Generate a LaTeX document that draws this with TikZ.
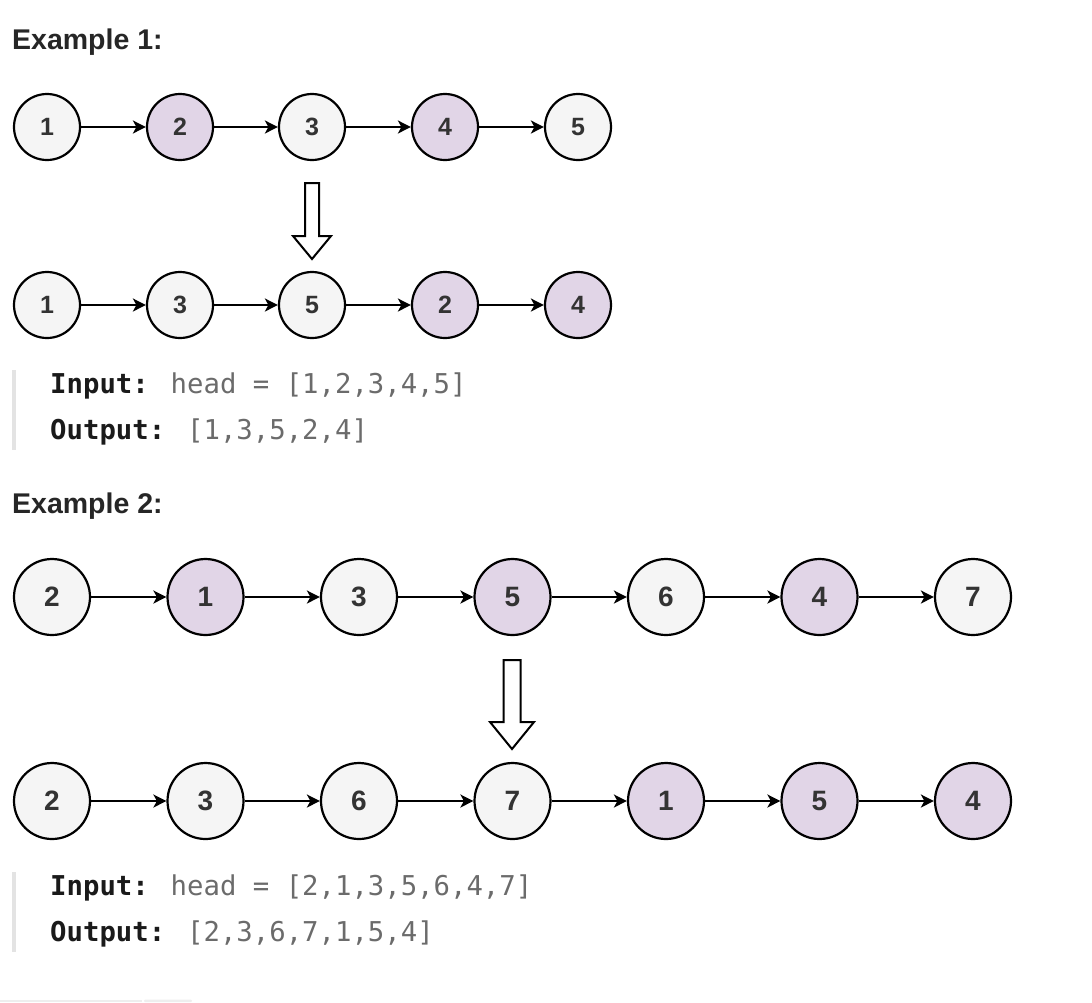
\documentclass[tikz,border=0pt]{standalone}
\usepackage{fontspec}
\setmainfont{Liberation Sans}
\newfontfamily\codefont{DejaVu Sans Mono}
\usetikzlibrary{arrows.meta}
\definecolor{nodelight}{HTML}{F5F5F5}
\definecolor{nodepurple}{HTML}{E1D5E7}
\definecolor{titlecol}{HTML}{262626}
\definecolor{digitcol}{HTML}{333333}
\definecolor{codegray}{HTML}{6B6B6B}
\definecolor{codeblack}{HTML}{1A1A1A}
\definecolor{barcol}{HTML}{E3E3E3}
\definecolor{linecol}{HTML}{EEEEEE}
\tikzset{
  lnode/.style={circle, draw=black, line width=2.2pt, fill=nodelight, text=digitcol, inner sep=0pt, font=\bfseries\fontsize{25}{30}\selectfont},
  small/.style={minimum size=66pt},
  big/.style={minimum size=76pt, font=\bfseries\fontsize{28}{32}\selectfont},
  purple/.style={fill=nodepurple},
  link/.style={-{Stealth[length=13pt,width=13pt,inset=3.5pt]}, line width=2pt},
  hollow/.style={draw=black, line width=2pt, fill=white, line join=miter},
  title/.style={anchor=base west, inner sep=0pt, text=titlecol, font=\bfseries\fontsize{28.5}{32}\selectfont},
  code/.style={anchor=base west, inner sep=0pt, text=codegray, font=\codefont\fontsize{27.3}{32}\selectfont},
}
\begin{document}
\begin{tikzpicture}[x=1pt,y=-1pt]
\useasboundingbox (0,0) rectangle (1092,1002);
% Example 1
\node[title] (t1) at (12,49) {Example 1:};
\node[lnode,small] (a1) at (47,127) {1};
\node[lnode,small,purple] (a2) at (180,127) {2};
\node[lnode,small] (a3) at (312,127) {3};
\node[lnode,small,purple] (a4) at (445,127) {4};
\node[lnode,small] (a5) at (578,127) {5};
\draw[link] (a1) -- (a2);
\draw[link] (a2) -- (a3);
\draw[link] (a3) -- (a4);
\draw[link] (a4) -- (a5);
\draw[hollow] (305,183) -- (319,183) -- (319,236) -- (331,236) -- (312,259) -- (293,236) -- (305,236) -- cycle;
\node[lnode,small] (b1) at (47,305) {1};
\node[lnode,small] (b2) at (180,305) {3};
\node[lnode,small] (b3) at (312,305) {5};
\node[lnode,small,purple] (b4) at (445,305) {2};
\node[lnode,small,purple] (b5) at (578,305) {4};
\draw[link] (b1) -- (b2);
\draw[link] (b2) -- (b3);
\draw[link] (b3) -- (b4);
\draw[link] (b4) -- (b5);
\fill[barcol] (12,370) rectangle (16,450);
\node[code] (c1) at (50,393) {\textcolor{codeblack}{\bfseries Input:} head = [1,2,3,4,5]};
\node[code] (c2) at (50,439) {\textcolor{codeblack}{\bfseries Output:} [1,3,5,2,4]};
% Example 2
\node[title] (t2) at (12,513) {Example 2:};
\node[lnode,big] (d1) at (52,597) {2};
\node[lnode,big,purple] (d2) at (205.5,597) {1};
\node[lnode,big] (d3) at (359,597) {3};
\node[lnode,big,purple] (d4) at (512.5,597) {5};
\node[lnode,big] (d5) at (666,597) {6};
\node[lnode,big,purple] (d6) at (819.5,597) {4};
\node[lnode,big] (d7) at (973,597) {7};
\foreach \i/\j in {1/2,2/3,3/4,4/5,5/6,6/7}{\draw[link] (d\i) -- (d\j);}
\draw[hollow] (503.5,660) -- (520.5,660) -- (520.5,722) -- (534,722) -- (512,749) -- (490,722) -- (503.5,722) -- cycle;
\node[lnode,big] (e1) at (52,801) {2};
\node[lnode,big] (e2) at (205.5,801) {3};
\node[lnode,big] (e3) at (359,801) {6};
\node[lnode,big] (e4) at (512.5,801) {7};
\node[lnode,big,purple] (e5) at (666,801) {1};
\node[lnode,big,purple] (e6) at (819.5,801) {5};
\node[lnode,big,purple] (e7) at (973,801) {4};
\foreach \i/\j in {1/2,2/3,3/4,4/5,5/6,6/7}{\draw[link] (e\i) -- (e\j);}
\fill[barcol] (12,872) rectangle (16,952);
\node[code] (f1) at (50,895) {\textcolor{codeblack}{\bfseries Input:} head = [2,1,3,5,6,4,7]};
\node[code] (f2) at (50,941) {\textcolor{codeblack}{\bfseries Output:} [2,3,6,7,1,5,4]};
% bottom faint rule
\fill[linecol] (0,999.5) rectangle (142,1002);
\fill[linecol, rounded corners=1pt] (144,999.5) rectangle (192,1002);
\end{tikzpicture}
\end{document}
